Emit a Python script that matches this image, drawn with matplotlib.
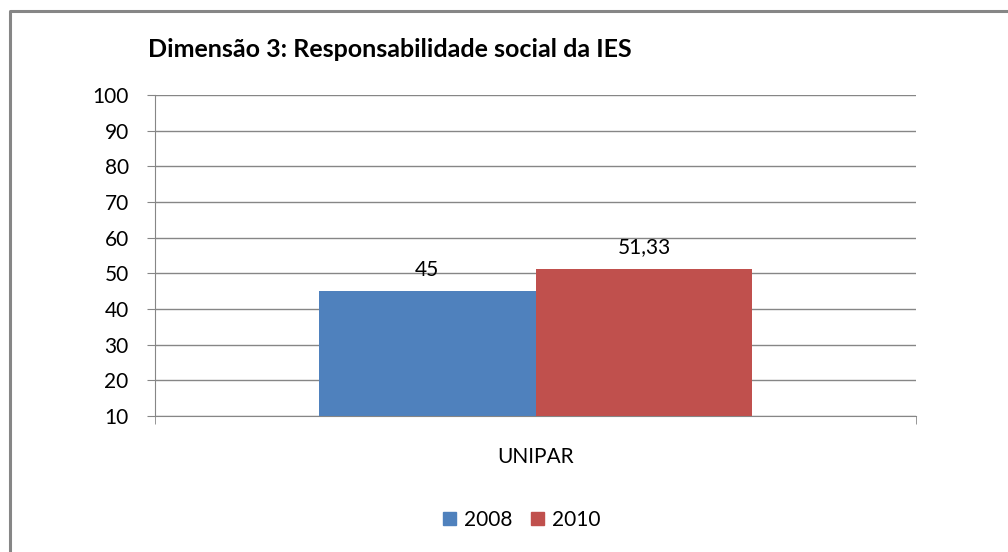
import matplotlib
matplotlib.use("Agg")
import matplotlib.pyplot as plt
from matplotlib.lines import Line2D
from matplotlib.patches import Patch

plt.rcParams["font.family"] = ["Lato", "DejaVu Sans"]

categories = ["UNIPAR"]
series_names = ["2008", "2010"]
values_2008 = [45]
values_2010 = [51.33]
value_labels = ["45", "51,33"]
yticks = [10, 20, 30, 40, 50, 60, 70, 80, 90, 100]

BLUE = "#4F81BD"
RED = "#C0504D"
GRID = "#868686"

fig = plt.figure(figsize=(10.08, 5.52), dpi=100)
ax = fig.add_axes([0.1538, 0.2464, 0.7549, 0.5815])

bw = 0.285
x = range(len(categories))
b1 = ax.bar([i - bw / 2 for i in x], values_2008, width=bw, color=BLUE, zorder=3)
b2 = ax.bar([i + bw / 2 for i in x], values_2010, width=bw, color=RED, zorder=3)

for bars, lab in zip((b1, b2), value_labels):
    for r in bars:
        ax.annotate(lab, (r.get_x() + r.get_width() / 2, r.get_height()),
                    textcoords="offset points", xytext=(0, 8), ha="center",
                    va="bottom", fontsize=15, color="#000000")

ax.set_xlim(-0.5, 0.5)
ax.set_ylim(10, 100)
ax.set_yticks(yticks)
ax.yaxis.grid(True, color=GRID, lw=1, zorder=0)
ax.tick_params(axis="y", length=6, color=GRID, labelsize=15, pad=13)
ax.set_xticks(list(x), categories)
ax.set_xticks([-0.5, 0.5], minor=True)
ax.tick_params(axis="x", which="major", length=0, pad=22, labelsize=15)
ax.tick_params(axis="x", which="minor", length=6, color=GRID, direction="out")
for s in ("top", "right"):
    ax.spines[s].set_visible(False)
for s in ("left", "bottom"):
    ax.spines[s].set_color(GRID)

fig.text(148 / 1008, 1 - 49 / 552, "Dimensão 3: Responsabilidade social da IES",
         fontsize=18, fontweight="bold", va="center", ha="left")

handles = [Patch(color=BLUE), Patch(color=RED)]
fig.legend(handles, series_names, loc="center", bbox_to_anchor=(522 / 1008, 1 - 520 / 552),
           ncol=2, frameon=False, fontsize=15, handlelength=0.6, handleheight=0.6,
           handletextpad=0.4, columnspacing=0.9)

# outer chart border (only top and left visible in the crop)
fig.add_artist(Line2D([10 / 1008, 10 / 1008, 1.0], [0.0, 1 - 11 / 552, 1 - 11 / 552],
                      transform=fig.transFigure, color=GRID, lw=2.2))

fig.savefig("out.png", dpi=100)
